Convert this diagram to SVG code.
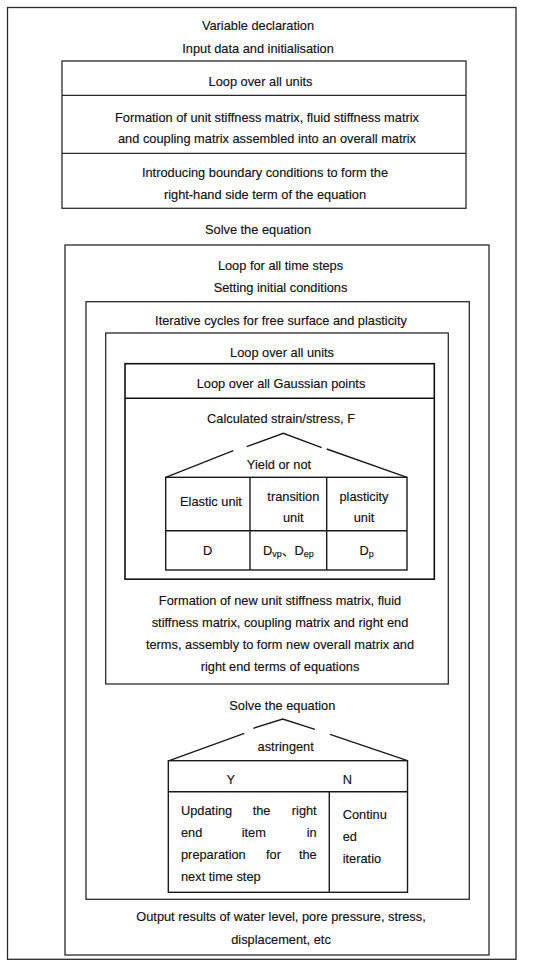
<svg xmlns="http://www.w3.org/2000/svg" width="550" height="968" viewBox="0 0 550 968">
<style>
.b{fill:none;stroke:#2a2a2a;stroke-width:1.3}
.k{fill:none;stroke:#111;stroke-width:1.6}
.l{fill:none;stroke:#1a1a1a;stroke-width:1.4}
text{font-family:"Liberation Sans",Arial,"Noto Sans CJK SC",sans-serif;font-size:12.8px;fill:#111;stroke:#111;stroke-width:0.15}
.m{text-anchor:middle}
.e{text-anchor:end}
</style>
<rect width="550" height="968" fill="#fff"/>
<g id="main">
<rect class="b" x="7.5" y="7.5" width="508.5" height="951.8"/>
<text class="m" x="258" y="30.2">Variable declaration</text>
<text class="m" x="258" y="52.5">Input data and initialisation</text>
<text class="m" x="258" y="233.5">Solve the equation</text>
<text class="m" x="281" y="921.2">Output results of water level, pore pressure, stress,</text>
<text class="m" x="281" y="943.8">displacement, etc</text>
</g>
<g id="assembly">
<rect class="b" x="62" y="61" width="404" height="147.3"/>
<line class="b" x1="62" y1="95.3" x2="466" y2="95.3"/>
<line class="b" x1="62" y1="153.3" x2="466" y2="153.3"/>
<text class="m" x="260.5" y="85.5">Loop over all units</text>
<text class="m" x="267" y="121.5">Formation of unit stiffness matrix, fluid stiffness matrix</text>
<text class="m" x="267" y="143">and coupling matrix assembled into an overall matrix</text>
<text class="m" x="265" y="176.5">Introducing boundary conditions to form the</text>
<text class="m" x="265" y="198.5">right-hand side term of the equation</text>
</g>
<g id="timesteps">
<rect class="b" x="65" y="245" width="424" height="710"/>
<text class="m" x="280.5" y="270.2">Loop for all time steps</text>
<text class="m" x="280.5" y="292.2">Setting initial conditions</text>
<text class="m" x="282.3" y="710.2">Solve the equation</text>
</g>
<g id="iterative">
<rect class="b" x="86" y="301.7" width="383.3" height="597.6"/>
<text class="m" x="281" y="324.5">Iterative cycles for free surface and plasticity</text>
</g>
<g id="units">
<rect class="b" x="105.7" y="333" width="342.6" height="351"/>
<text class="m" x="282" y="356.8">Loop over all units</text>
<text class="m" x="280" y="605.2">Formation of new unit stiffness matrix, fluid</text>
<text class="m" x="280" y="627.2">stiffness matrix, coupling matrix and right end</text>
<text class="m" x="280" y="648.5">terms, assembly to form new overall matrix and</text>
<text class="m" x="280" y="671.2">right end terms of equations</text>
</g>
<g id="gauss">
<rect class="k" x="125" y="363.7" width="309.3" height="215.5"/>
<line class="k" x1="125" y1="398.3" x2="434.3" y2="398.3"/>
<text class="m" x="281" y="387.8">Loop over all Gaussian points</text>
<text class="m" x="281" y="422.8">Calculated strain/stress, F</text>
</g>
<g id="yield">
<polyline class="l" points="246.7,446.7 283.3,433.3 321.7,447.7"/>
<line class="l" x1="233.3" y1="450.7" x2="165.7" y2="477.3"/>
<line class="l" x1="326.7" y1="449" x2="407" y2="477.3"/>
<rect class="l" x="165.7" y="477.3" width="241.3" height="92.7"/>
<line class="l" x1="250" y1="477.3" x2="250" y2="570"/>
<line class="l" x1="326.7" y1="477.3" x2="326.7" y2="570"/>
<line class="l" x1="165.7" y1="530.7" x2="407" y2="530.7"/>
<text class="m" x="279" y="468.8">Yield or not</text>
<text class="m" x="211" y="506.2">Elastic unit</text>
<text class="m" x="293.3" y="500.5">transition</text>
<text class="m" x="293.3" y="521.8">unit</text>
<text class="m" x="364" y="500.5">plasticity</text>
<text class="m" x="364" y="521.8">unit</text>
<text class="m" x="207.7" y="555.2">D</text>
<text class="m" x="288.3" y="555">D<tspan font-size="9" dy="2">vp</tspan><tspan dy="-2">、</tspan>D<tspan font-size="9" dy="2">ep</tspan></text>
<text class="m" x="366.7" y="555.2">D<tspan font-size="9" dy="2">p</tspan></text>
</g>
<g id="astringent">
<polyline class="l" points="253.3,728.3 282.7,719 315,729.3"/>
<line class="l" x1="244.3" y1="733.3" x2="169.3" y2="760.7"/>
<line class="l" x1="330" y1="734.3" x2="407.5" y2="760.7"/>
<rect class="l" x="168.3" y="760.7" width="239.2" height="131.6"/>
<line class="l" x1="168.3" y1="791.7" x2="407.5" y2="791.7"/>
<line class="l" x1="329.3" y1="791.7" x2="329.3" y2="892.3"/>
<text class="m" x="285.7" y="751.2">astringent</text>
<text class="m" x="230.7" y="783.8">Y</text>
<text class="m" x="347.3" y="783.8">N</text>
<text x="181" y="815.2">Updating</text>
<text x="252.7" y="815.2">the</text>
<text class="e" x="316.7" y="815.2">right</text>
<text x="181" y="837.2">end</text>
<text x="241.7" y="837.2">item</text>
<text class="e" x="316.7" y="837.2">in</text>
<text x="181" y="859.2">preparation</text>
<text x="266" y="859.2">for</text>
<text class="e" x="316.7" y="859.2">the</text>
<text x="181" y="881.2">next time step</text>
<text x="342.7" y="818.5">Continu</text>
<text x="342.7" y="840.5">ed</text>
<text x="342.7" y="862.5">iteratio</text>
</g>
</svg>
